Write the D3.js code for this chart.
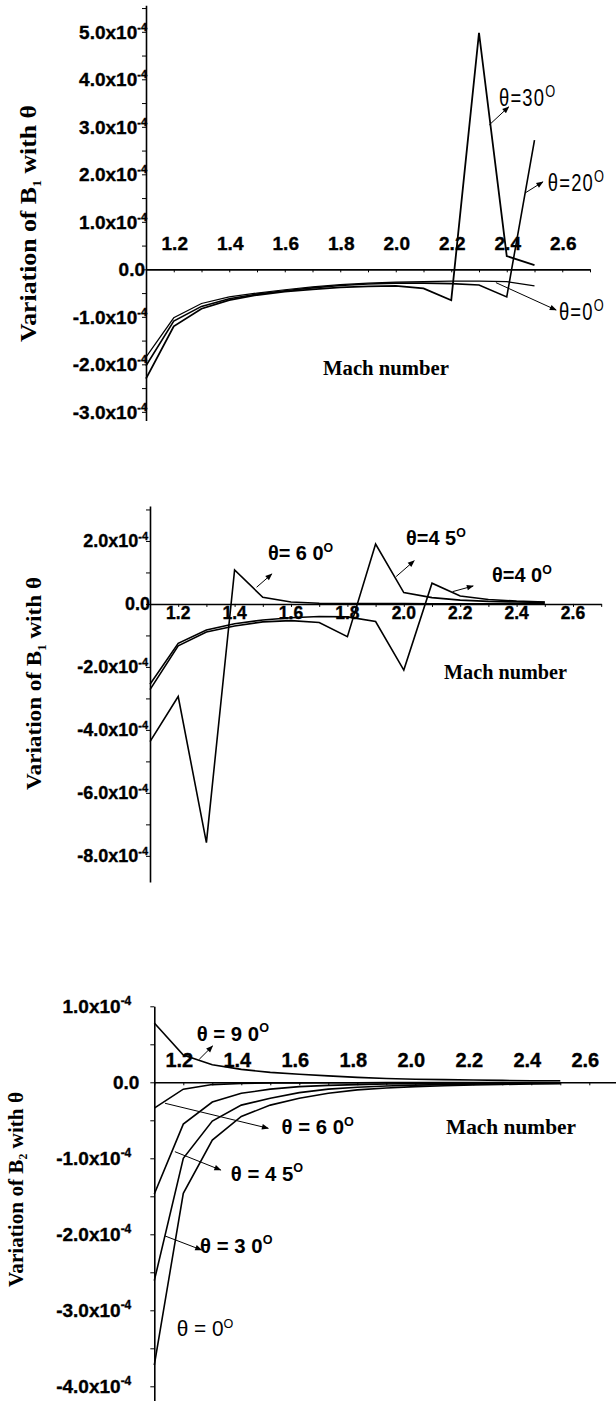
<!DOCTYPE html>
<html><head><meta charset="utf-8">
<script src="https://cdn.jsdelivr.net/npm/d3@7"></script>
<style>
html,body{margin:0;padding:0;background:#fff;}
svg{display:block;}
</style></head><body>
<svg id="c" width="616" height="1401"></svg>
<script>
// ---------- DATA (values in units of 1e-4) ----------
const mach = [1.1,1.2,1.3,1.4,1.5,1.6,1.7,1.8,1.9,2.0,2.1,2.2,2.3,2.4,2.5];
const xTickLabels = [1.2,1.4,1.6,1.8,2.0,2.2,2.4,2.6];

// Panel 1 : B1, theta = 0, 20, 30 deg
const b1Theta0  = [-1.85,-1.02,-0.72,-0.58,-0.50,-0.43,-0.37,-0.32,-0.29,-0.27,-0.26,-0.25,-0.25,-0.26,-0.35];
const b1Theta20 = [-2.03,-1.09,-0.78,-0.62,-0.52,-0.45,-0.39,-0.34,-0.31,-0.29,-0.29,-0.30,-0.33,-0.58,2.72];
const b1Theta30 = [-2.30,-1.20,-0.83,-0.65,-0.54,-0.47,-0.42,-0.38,-0.36,-0.35,-0.40,-0.65,4.98,0.28,0.09];
const p1YLabels = [5,4,3,2,1,0,-1,-2,-3];

// Panel 2 : B1, theta = 40, 45, 60 deg
const b1Theta40 = [-2.55,-1.25,-0.83,-0.63,-0.51,-0.44,-0.40,-0.41,-0.56,-2.10,0.66,0.25,0.14,0.09,0.06];
const b1Theta45 = [-2.72,-1.33,-0.89,-0.70,-0.57,-0.53,-0.59,-1.04,1.90,0.36,0.20,0.12,0.08,0.06,0.05];
const b1Theta60 = [-4.37,-2.94,-7.58,1.08,0.21,0.06,0.02,0.01,0.01,0.01,0.005,0.005,0.005,0.005,0.005];
const p2YLabels = [2,0,-2,-4,-6,-8];

// Panel 3 : B2, theta = 0, 30, 45, 60, 90 deg
const b2Theta0  = [-3.72,-1.46,-0.76,-0.45,-0.30,-0.21,-0.145,-0.10,-0.075,-0.057,-0.045,-0.035,-0.028,-0.022,-0.018];
const b2Theta30 = [-2.61,-1.00,-0.51,-0.30,-0.21,-0.136,-0.09,-0.065,-0.048,-0.037,-0.030,-0.024,-0.019,-0.016,-0.013];
const b2Theta45 = [-1.47,-0.55,-0.26,-0.145,-0.09,-0.057,-0.04,-0.03,-0.022,-0.017,-0.014,-0.011,-0.009,-0.008,-0.007];
const b2Theta60 = [-0.34,-0.09,-0.03,-0.015,-0.01,-0.008,-0.006,-0.005,-0.004,-0.003,-0.003,-0.002,-0.002,-0.002,-0.002];
const b2Theta90 = [0.78,0.36,0.23,0.17,0.13,0.105,0.085,0.065,0.05,0.04,0.035,0.03,0.025,0.02,0.02];
const p3YLabels = [1,0,-1,-2,-3,-4];

// Annotations (anchored in data coordinates)
const p1Notes = [
  {text:"θ=30", tx:2.372, ty:3.61, a:[2.337,3.04,2.407,3.42]},
  {text:"θ=20", tx:2.548, ty:1.82, a:[2.467,1.61,2.530,1.84]},
  {text:"θ=0",  tx:2.588, ty:-0.89, a:[2.361,-0.28,2.578,-0.857]}
];
const p2Notes = [
  {text:"θ= 6 0", tx:1.518, ty:1.62, a:[1.478,0.53,1.532,0.95]},
  {text:"θ=4 5",  tx:2.008, ty:2.10, a:[1.973,0.87,2.037,1.37]},
  {text:"θ=4 0",  tx:2.313, ty:0.95, a:[2.173,0.39,2.246,0.57]}
];
const p3Notes = [
  {text:"θ = 9 0", tx:1.246, ty:0.645, a:[1.255,0.303,1.301,0.478]},
  {text:"θ = 6 0", tx:1.539, ty:-0.584, a:[1.137,-0.276,1.493,-0.605]},
  {text:"θ = 4 5", tx:1.364, ty:-1.197, a:[1.171,-0.913,1.329,-1.154]},
  {text:"θ = 3 0", tx:1.258, ty:-2.141, a:[1.137,-2.022,1.263,-2.206]},
  {text:"θ = 0",   tx:1.177, ty:-3.237, a:null, regular:true}
];

// ---------- DRAWING ----------
const SANS = "'Liberation Sans', Arial, Helvetica, sans-serif";
const SERIF = "'Liberation Serif', 'Times New Roman', Times, serif";
const svg = d3.select("#c");
svg.append("rect").attr("width",616).attr("height",1401).attr("fill","#fff");
svg.append("defs").append("marker").attr("id","ah")
  .attr("viewBox","0 0 10 10").attr("refX",9).attr("refY",5)
  .attr("markerWidth",8).attr("markerHeight",7).attr("markerUnits","userSpaceOnUse")
  .attr("orient","auto")
  .append("path").attr("d","M0,1 L10,5 L0,9 z").attr("fill","#000");

function panel(cfg){
  const x = d3.scaleLinear().domain([1.1,2.7]).range(cfg.xRange);
  const y = d3.scaleLinear().domain(cfg.yDomain).range(cfg.yRange);
  const g = svg.append("g");
  const x0 = cfg.xRange[0];

  const yAx = d3.axisLeft(y).tickValues(cfg.yMinor).tickSize(4).tickSizeOuter(0).tickFormat("");
  const gy = g.append("g").attr("transform",`translate(${x0},0)`).call(yAx);
  const xAx = d3.axisBottom(x).tickValues(d3.range(11,28).map(d=>d/10)).tickSize(3).tickSizeOuter(0).tickFormat("");
  const gx = g.append("g").attr("transform",`translate(0,${y(0)})`).call(xAx);
  [gy,gx].forEach(a=>{
    a.select(".domain").attr("stroke","#000").attr("stroke-width",1.6);
    a.selectAll(".tick line").attr("stroke","#000").attr("stroke-width",1);
  });

  // y tick labels
  cfg.yLabels.forEach(v=>{
    const t = g.append("text")
      .attr("x", x0 + (v===0 ? cfg.zeroDx : cfg.labDx))
      .attr("y", y(v) + 0.36*cfg.tickFont)
      .attr("text-anchor","end").attr("font-family",SANS).attr("font-weight","bold")
      .attr("font-size",cfg.tickFont).attr("fill","#000")
      .attr("stroke","#000").attr("stroke-width",0.35);
    if(v===0){ t.text("0.0"); }
    else {
      t.append("tspan").text(v.toFixed(1)+"x10");
      t.append("tspan").attr("font-size",cfg.supFont).attr("dy",-cfg.supRise).text("-4");
    }
  });
  // x tick labels
  xTickLabels.forEach(v=>{
    g.append("text").attr("x", x(v)+cfg.xLabDx).attr("y", y(0)+cfg.xLabDy)
      .attr("text-anchor","middle").attr("font-family",SANS).attr("font-weight","bold")
      .attr("font-size",cfg.xTickFont).attr("fill","#000")
      .attr("stroke","#000").attr("stroke-width",0.35).text(v.toFixed(1));
  });

  // series
  const line = d3.line().x((d,i)=>x(mach[i])).y(d=>y(d));
  cfg.series.forEach(s=>{
    g.append("path").datum(s.values).attr("d",line).attr("fill","none")
      .attr("stroke","#000").attr("stroke-width",s.w||1.6).attr("stroke-linejoin","miter");
  });

  // annotations
  cfg.notes.forEach(n=>{
    if(n.a){
      g.append("line").attr("x1",x(n.a[0])).attr("y1",y(n.a[1]))
        .attr("x2",x(n.a[2])).attr("y2",y(n.a[3]))
        .attr("stroke","#000").attr("stroke-width",1).attr("marker-end","url(#ah)");
    }
    const reg = n.regular || cfg.noteRegular;
    const fs = n.regular ? cfg.regFont : cfg.noteFont;
    const sx = cfg.noteScaleX || 1;
    const t = g.append("text")
      .attr("transform",`translate(${x(n.tx)},${y(n.ty)+0.36*fs}) scale(${sx},1)`)
      .attr("font-family",SANS).attr("font-weight", reg ? "normal":"bold")
      .attr("letter-spacing", cfg.noteSpacing || 0)
      .attr("font-size",fs).attr("fill","#000");
    t.append("tspan").text(n.text);
    t.append("tspan").attr("font-size",cfg.noteSup).attr("dy",-cfg.noteSupRise).text("O");
  });

  // axis titles
  const tt = g.append("text")
    .attr("transform",`translate(${cfg.title.cx},${cfg.title.cy}) rotate(-90)`)
    .attr("text-anchor","middle").attr("dy","0.33em")
    .attr("font-family",SERIF).attr("font-weight","bold").attr("font-size",cfg.title.fs)
    .attr("textLength",cfg.title.len).attr("lengthAdjust","spacingAndGlyphs").attr("fill","#000");
  tt.append("tspan").text("Variation of B");
  tt.append("tspan").attr("font-size",cfg.title.fs*0.55).attr("dy",cfg.title.fs*0.2).text(cfg.title.sub);
  tt.append("tspan").attr("dy",-cfg.title.fs*0.2).text(" with θ");

  g.append("text").attr("x",cfg.mach.x).attr("y",cfg.mach.y)
    .attr("font-family",SERIF).attr("font-weight","bold").attr("font-size",cfg.mach.fs)
    .attr("textLength",cfg.mach.len).attr("lengthAdjust","spacingAndGlyphs")
    .attr("fill","#000").text("Mach number");
}

panel({
  xRange:[146,590], yDomain:[-3.18,5.56], yRange:[420.4,5.2],
  yMinor:d3.range(-6,12).map(d=>d/2), yLabels:p1YLabels,
  tickFont:19, supFont:11, supRise:8, labDx:1, zeroDx:-1,
  xTickFont:19, xLabDx:1, xLabDy:-19,
  series:[{values:b1Theta0,w:1.2},{values:b1Theta20,w:1.6},{values:b1Theta30,w:1.8}],
  notes:p1Notes, noteRegular:true, noteFont:23, regFont:23, noteSup:16, noteSupRise:9, noteScaleX:0.8, noteSpacing:1.5,
  title:{cx:28, cy:223.5, fs:24, len:237, sub:"1"},
  mach:{x:323, y:374.5, fs:20, len:126}
});

panel({
  xRange:[150,601.2], yDomain:[-8.83,3.11], yRange:[882,506],
  yMinor:d3.range(-8,4,1), yLabels:p2YLabels,
  tickFont:18, supFont:11, supRise:7.5, labDx:-2, zeroDx:0,
  xTickFont:17.5, xLabDx:0, xLabDy:15,
  series:[{values:b1Theta40},{values:b1Theta45},{values:b1Theta60}],
  notes:p2Notes, noteRegular:false, noteFont:21, regFont:21, noteSup:13, noteSupRise:8, noteScaleX:0.95,
  title:{cx:34, cy:683.5, fs:22, len:213, sub:"1"},
  mach:{x:444, y:678.5, fs:20, len:123}
});

panel({
  xRange:[154.3,618.3], yDomain:[-4.2,1.0], yRange:[1401.5,1006.3],
  yMinor:d3.range(-8,3).map(d=>d/2), yLabels:p3YLabels,
  tickFont:19, supFont:12, supRise:8.5, labDx:-23, zeroDx:-15,
  xTickFont:20, xLabDx:-4, xLabDy:-15.5,
  series:[{values:b2Theta0},{values:b2Theta30},{values:b2Theta45},{values:b2Theta60},{values:b2Theta90}],
  notes:p3Notes, noteRegular:false, noteFont:21, regFont:21.5, noteSup:13, noteSupRise:8.5, noteScaleX:0.97,
  title:{cx:16, cy:1189.5, fs:21, len:195, sub:"2"},
  mach:{x:446, y:1133.5, fs:21, len:130}
});
</script>
</body></html>
